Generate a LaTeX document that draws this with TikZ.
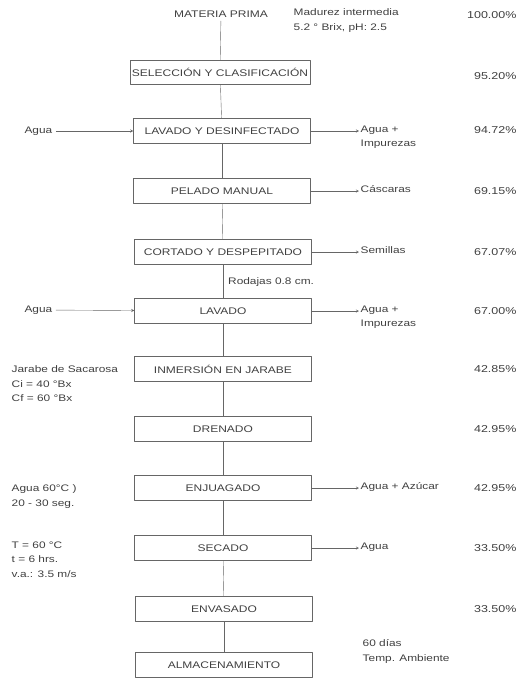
\documentclass[tikz,border=0pt]{standalone}
\usepackage{fontspec}
\setmainfont{Liberation Sans}[FakeStretch=1.25]
\begin{document}
\begin{tikzpicture}[x=1pt,y=-1pt,>=stealth,line join=round,thin,
	font=\fontsize{9.5}{14.5}\selectfont,every node/.style={text=black!75},
	proc/.style={draw=black!60,minimum width=177pt,minimum height=25pt,inner sep=0pt,font=\fontsize{9.6}{11}\selectfont},
	lbl/.style={align=left,anchor=north west,inner sep=1.5pt},
	pct/.style={anchor=east,font=\fontsize{10}{11}\selectfont},
	flow/.style={draw=black!60}]
	\useasboundingbox (0,0) rectangle (521,680);
	% etapas del proceso
	\node[font=\fontsize{9.6}{11}\selectfont] (mp) at (221,14) {MATERIA PRIMA};
	\node[proc,minimum width=180pt,minimum height=24pt] (sel) at (220,72) {SELECCIÓN Y CLASIFICACIÓN};
	\node[proc] (lav1) at (222,131) {LAVADO Y DESINFECTADO};
	\node[proc] (pel) at (222,191) {PELADO MANUAL};
	\node[proc] (cor) at (223,252) {CORTADO Y DESPEPITADO};
	\node[proc] (lav2) at (223,311) {LAVADO};
	\node[proc] (inm) at (223,369) {INMERSIÓN EN JARABE};
	\node[proc] (dre) at (223,429) {DRENADO};
	\node[proc] (enj) at (223,488) {ENJUAGADO};
	\node[proc] (sec) at (223,548) {SECADO};
	\node[proc] (env) at (224,609) {ENVASADO};
	\node[proc] (alm) at (224,665) {ALMACENAMIENTO};
	\foreach \a/\b in {mp/sel,sel/lav1,lav1/pel,pel/cor,cor/lav2,lav2/inm,inm/dre,dre/enj,enj/sec,sec/env,env/alm}
		\draw[flow] (\a) -- (\b);
	% condiciones
	\node[lbl] (mad) at (292,7) {Madurez intermedia\\5.2 ° Brix, pH: 2.5};
	\node[anchor=west,inner sep=1pt] (rod) at (227,282) {Rodajas 0.8 cm.};
	\node[lbl] (jar) at (10,364) {Jarabe de Sacarosa\\Ci = 40 °Bx\\Cf = 60 °Bx};
	\node[lbl] (agc) at (10,483) {Agua 60°C )\\20 - 30 seg.};
	\node[lbl] (tse) at (10,540) {T = 60 °C\\t = 6 hrs.\\v.a.: 3.5 m/s};
	\node[lbl] (dia) at (361,638) {60 días\\Temp. Ambiente};
	% entradas
	\node[anchor=west] (in1) at (21,131) {Agua};
	\node[anchor=west] (in2) at (21,310) {Agua};
	\draw[flow,->] (in1) -- (lav1);
	\draw[flow,->] (in2) -- (lav2);
	% salidas
	\node[lbl] (out1) at (359,124) {Agua +\\Impurezas};
	\node[lbl] (out2) at (359,184) {Cáscaras};
	\node[lbl] (out3) at (359,245) {Semillas};
	\node[lbl] (out4) at (359,304) {Agua +\\Impurezas};
	\node[lbl] (out5) at (359,481) {Agua + Azúcar};
	\node[lbl] (out6) at (359,541) {Agua};
	\foreach \a/\b in {lav1/out1,pel/out2,cor/out3,lav2/out4,enj/out5,sec/out6}
		\draw[flow,->] (\a) -- (\a -| \b.west);
	% rendimientos
	\foreach \y/\p in {15/100.00,76/95.20,130/94.72,191/69.15,252/67.07,311/67.00,369/42.85,429/42.95,488/42.95,548/33.50,609/33.50}
		\node[pct] (r\y) at (520,\y) {\p\%};
\end{tikzpicture}
\end{document}
